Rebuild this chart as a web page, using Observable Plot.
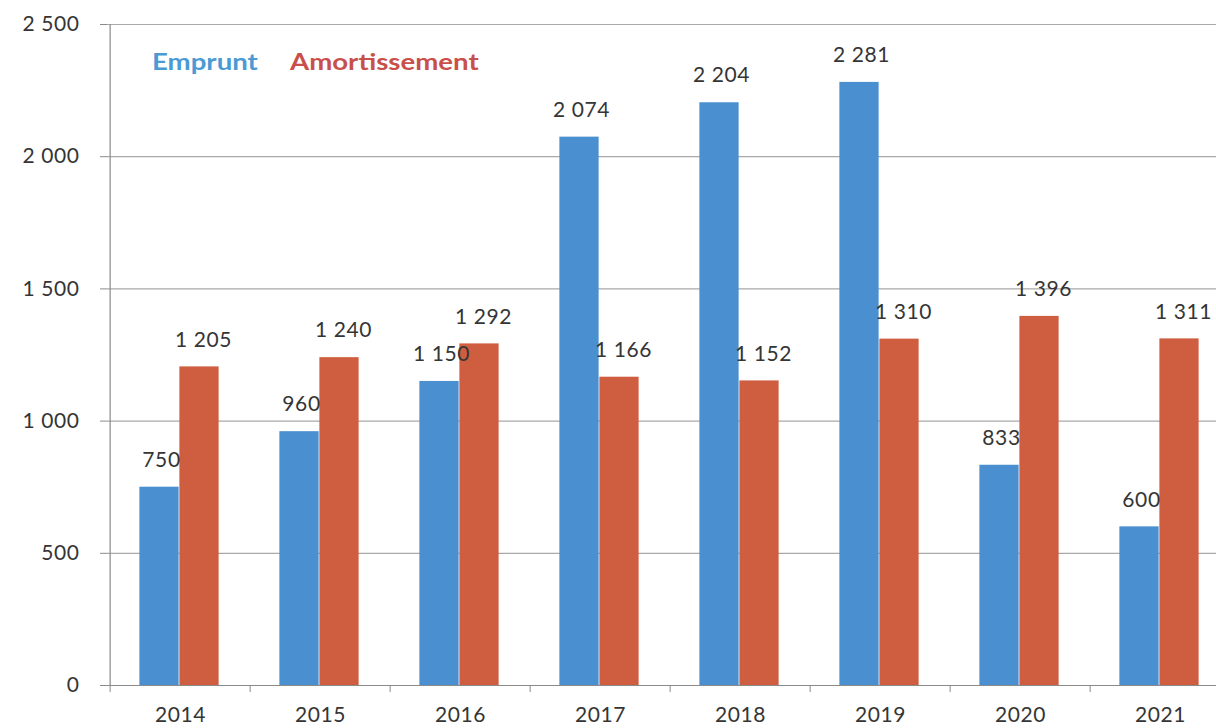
<!DOCTYPE html>
<html>
<head>
<meta charset="utf-8">
<script src="https://cdn.jsdelivr.net/npm/d3@7"></script>
<script src="https://cdn.jsdelivr.net/npm/@observablehq/plot@0.6"></script>
<style>
  html, body { margin: 0; padding: 0; background: #fff; }
  #wrap { position: relative; width: 1216px; height: 728px; overflow: hidden; font-family: Lato, "Open Sans", sans-serif; }
  #wrap svg { overflow: hidden; max-width: none !important; display: block; }
  .leg { position: absolute; top: 47px; font-weight: bold; font-size: 23px; font-family: Lato, "Open Sans", sans-serif; transform: scaleX(1.2); transform-origin: left center; white-space: nowrap; }
</style>
</head>
<body>
<div id="wrap">
  <div class="leg" style="left:152px;color:#4a9ad3">Emprunt</div>
  <div class="leg" style="left:290px;color:#c9504a">Amortissement</div>
</div>
<script>
const years = ["2014", "2015", "2016", "2017", "2018", "2019", "2020", "2021"];
const series = ["Emprunt", "Amortissement"];
const emprunt = [750, 960, 1150, 2074, 2204, 2281, 833, 600];
const amortissement = [1205, 1240, 1292, 1166, 1152, 1310, 1396, 1311];
const yTicks = [0, 500, 1000, 1500, 2000, 2500];

const data = years.flatMap((y, i) => [
  {year: y, series: "Emprunt", value: emprunt[i]},
  {year: y, series: "Amortissement", value: amortissement[i]}
]);

const fmt = d3.formatLocale({decimal: ",", thousands: " ", grouping: [3], currency: ["", ""]}).format(",d");

const W = 1245, ML = 107, MR = 12;
const bw = (W - ML - MR) / years.length;
const barW = 40;
const center = bw / 2 - 1;

const blue = "#4a8fd0", red = "#cf5e40";

const chart = Plot.plot({
  width: W,
  height: 728,
  marginLeft: ML,
  marginRight: MR,
  marginTop: 24,
  marginBottom: 43,
  style: {fontFamily: "Lato, 'Open Sans', sans-serif", fontSize: "21px", color: "#353535", background: "transparent", letterSpacing: "0.6px"},
  x: {domain: years, padding: 0, axis: null, label: null},
  y: {domain: [0, 2500], axis: null, label: null},
  marks: [
    Plot.gridY(yTicks, {stroke: "#a9a9a9", strokeOpacity: 1, strokeWidth: 1.2}),
    Plot.barY(data.filter(d => d.series === "Emprunt"), {
      x: "year", y: "value", fill: blue,
      insetLeft: center - barW, insetRight: bw - center
    }),
    Plot.barY(data.filter(d => d.series === "Amortissement"), {
      x: "year", y: "value", fill: red,
      insetLeft: center, insetRight: bw - center - barW
    }),
    Plot.ruleY([0], {stroke: "#8a8a8a", strokeWidth: 1.2}),
    Plot.ruleX([years[0]], {dx: -bw / 2, stroke: "#8a8a8a", strokeWidth: 1.2}),
    Plot.axisY(yTicks, {anchor: "left", label: null, tickSize: 7, tickPadding: 21, tickFormat: fmt, fontSize: 21, stroke: "#8a8a8a", fill: "#353535"}),
    Plot.axisX(years, {anchor: "bottom", label: null, tickSize: 7, dx: -bw / 2, tickFormat: () => "", stroke: "#8a8a8a"}),
    Plot.axisX(years, {anchor: "bottom", label: null, tickSize: 0, tickPadding: 22, fontSize: 21, fill: "#353535"}),
    Plot.text(data.filter(d => d.series === "Emprunt"), {
      x: "year", y: "value", text: d => fmt(d.value),
      dx: center - barW / 2 - bw / 2 + 2, dy: -27, fontSize: 21, fill: "#353535"
    }),
    Plot.text(data.filter(d => d.series === "Amortissement"), {
      x: "year", y: "value", text: d => fmt(d.value),
      dx: center + barW / 2 - bw / 2 + 4, dy: -27, fontSize: 21, fill: "#353535"
    })
  ]
});

document.getElementById("wrap").prepend(chart);
</script>
</body>
</html>
